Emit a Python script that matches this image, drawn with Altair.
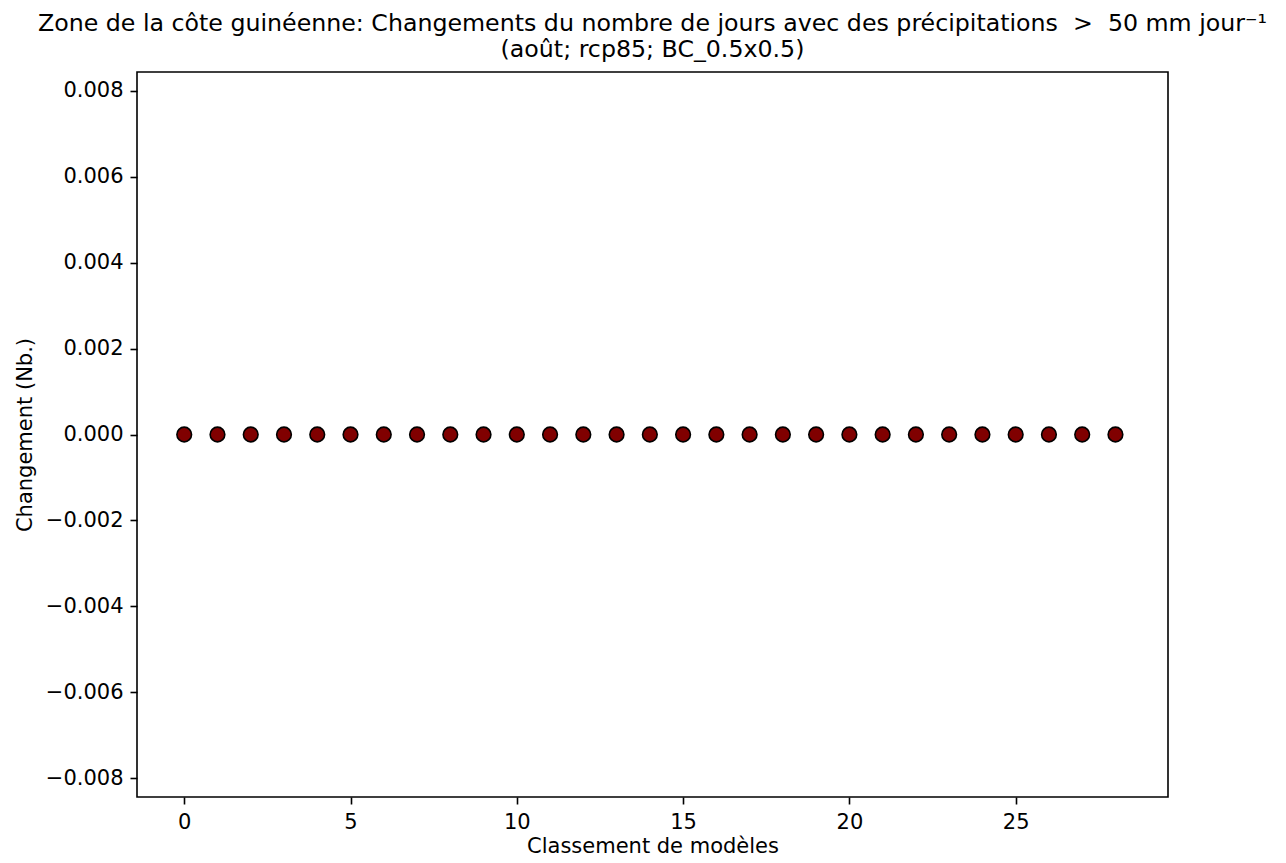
import altair as alt
import pandas as pd

ranks = [0, 1, 2, 3, 4, 5, 6, 7, 8, 9, 10, 11, 12, 13, 14, 15, 16, 17, 18, 19,
         20, 21, 22, 23, 24, 25, 26, 27, 28]
changes = [0.0, 0.0, 0.0, 0.0, 0.0, 0.0, 0.0, 0.0, 0.0, 0.0, 0.0, 0.0, 0.0, 0.0,
           0.0, 0.0, 0.0, 0.0, 0.0, 0.0, 0.0, 0.0, 0.0, 0.0, 0.0, 0.0, 0.0, 0.0, 0.0]
x_ticks = [0, 5, 10, 15, 20, 25]
y_ticks = [-0.008, -0.006, -0.004, -0.002, 0.0, 0.002, 0.004, 0.006, 0.008]

df = pd.DataFrame({"rank": ranks, "change": changes})

FONT = "DejaVu Sans"
W, H = 1031, 725
LBL = 21

title_line1 = ("Zone de la côte guinéenne: Changements du nombre de jours avec des "
               "précipitations \u00a0>\u00a0 50 mm jour⁻¹")
title_line2 = "(août; rcp85; BC_0.5x0.5)"

chart = alt.Chart(df).mark_point(
    shape="circle", filled=True, fill="#800000", stroke="#000000",
    strokeWidth=1.6, size=215, opacity=1
).encode(
    x=alt.X("rank:Q",
            scale=alt.Scale(domain=[-1.42, 29.58], nice=False, zero=False),
            axis=alt.Axis(values=x_ticks, format="d", title="Classement de modèles",
                          grid=False, domain=False, tickSize=7, tickColor="black",
                          tickWidth=1.6, labelPadding=7, labelFontSize=LBL,
                          labelColor="black", labelFont=FONT, titleFont=FONT,
                          titleFontSize=LBL, titleFontWeight="normal",
                          titleColor="black", titlePadding=3)),
    y=alt.Y("change:Q",
            scale=alt.Scale(domain=[-0.00844, 0.00844], nice=False, zero=False),
            axis=alt.Axis(values=y_ticks, format=".3f", title="Changement (Nb.)",
                          grid=False, domain=False, tickSize=7, tickColor="black",
                          tickWidth=1.6, labelPadding=7, labelFontSize=LBL,
                          labelColor="black", labelFont=FONT, titleFont=FONT,
                          titleFontSize=LBL, titleFontWeight="normal",
                          titleColor="black", titlePadding=10)),
).properties(
    width=W, height=H,
    title=alt.TitleParams(
        text=[title_line1, title_line2],
        font=FONT, fontSize=23.7, fontWeight="normal", color="black",
        anchor="middle", frame="group", offset=10, lineHeight=26),
    autosize=alt.AutoSizeParams(type="none"),
    padding={"left": 129, "top": 64, "right": 110, "bottom": 60},
).configure(
    background="white"
).configure_view(
    stroke="black", strokeWidth=1.6
)

chart.save("out.html", embed_options={"renderer": "svg", "actions": False})
